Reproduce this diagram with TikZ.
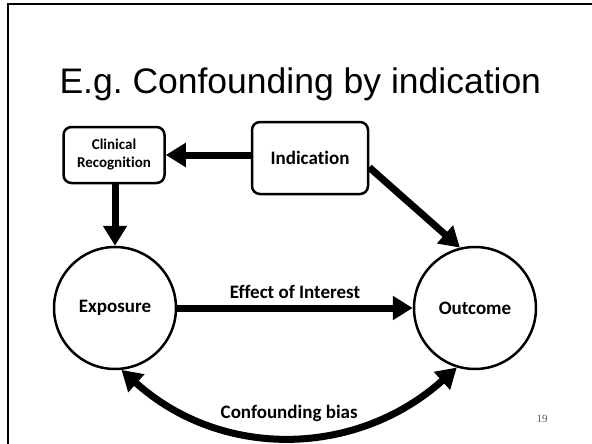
\documentclass[tikz,border=0pt]{standalone}
\usepackage{fontspec}
\setmainfont[Ligatures=NoCommon]{Carlito}
\newfontfamily\titlefont{Liberation Sans}
\newfontfamily\pagefont{Liberation Serif}
\usetikzlibrary{arrows.meta}
\frenchspacing

\begin{document}
\begin{tikzpicture}[x=1pt, y=-1pt, font=\fontsize{19}{22}\selectfont\bfseries]
                \tikzstyle{factorbox} = [draw, line width=2.5pt, rounded corners=8pt, align=center, inner sep=0pt]
                \tikzstyle{varnode} = [draw, circle, line width=2.5pt, minimum size=122pt, inner sep=0pt]
                \tikzstyle{effect} = [line width=7pt, -{Triangle[length=20pt, width=23pt]}]
                \useasboundingbox (0, 0) rectangle (592, 444);
                \draw[line width=2.5pt] (8, 444) -- (8, 4) -- (592, 4);
                \node[anchor=base west, font=\titlefont\fontsize{35.5}{40}\selectfont] (title) at (56, 94) {E.g. Confounding by indication};
                \node[factorbox, minimum width=116pt, minimum height=72pt] (ind) at (310, 158) {Indication};
                \node[factorbox, minimum width=101pt, minimum height=56pt, font=\fontsize{15}{18}\selectfont\bfseries] (clin) at (114, 155) {Clinical\\Recognition};
                \node[varnode] (exp) at (115, 308) {Exposure};
                \node[varnode] (out) at (475, 308) {Outcome};
                \node[font=\pagefont\fontsize{11}{13}\selectfont, text=black!65] (page) at (542, 419) {19};
                \draw[effect] (ind.west |- clin.east) -- (clin.east);
                \draw[effect] (clin.south -| exp.north) -- (exp.north);
                \draw[effect] (ind.-9) -- (out.104);
                \draw[effect] (exp.east) -- (out.west) node[midway, above=3pt] (interest) {Effect of Interest};
                \draw[effect, {Triangle[length=20pt, width=23pt]}-{Triangle[length=20pt, width=23pt]}] (exp.-84) .. controls +(100, 90) and +(-100, 90) .. (out.-107) node[midway, above=8pt] (bias) {Confounding bias};
            \end{tikzpicture}
\end{document}
